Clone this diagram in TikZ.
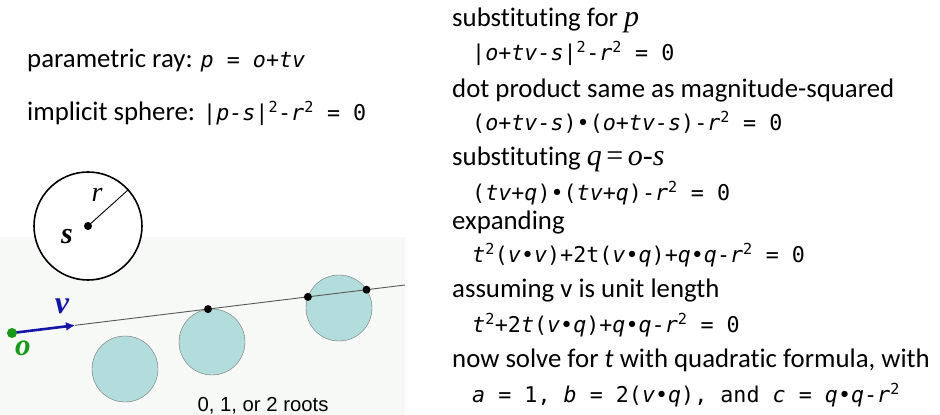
\documentclass[tikz,border=0pt]{standalone}
\usepackage{fontspec}
\setmainfont{Carlito}[Ligatures=NoCommon]
\setmonofont{DejaVu Sans Mono}
\newfontfamily\serifit{Liberation Serif}
\newfontfamily\arialfont{Liberation Sans}
\usetikzlibrary{arrows.meta}
\definecolor{ballfill}{HTML}{B3DCDC}
\definecolor{rayblue}{HTML}{1515A8}
\definecolor{origgreen}{HTML}{189A18}
\definecolor{backshade}{HTML}{F6F9F6}
\newcommand{\vr}[1]{\textit{#1}}
\newcommand{\sq}{\textsuperscript{2}}
\newcommand{\eqfont}{\ttfamily\fontsize{21.7}{24}\selectfont}
\newcommand{\mth}{\serifit\fontsize{30}{32}\selectfont}

\tikzset{
  txt/.style={anchor=base west, inner sep=0pt, font=\fontsize{26.8}{30}\selectfont},
  eqn/.style={anchor=base west, inner sep=0pt, font=\eqfont},
  ball/.style={circle, draw=gray!90!black, fill=ballfill, minimum size=66pt, inner sep=0pt},
  hit/.style={circle, fill=black, minimum size=8pt, inner sep=0pt},
}

\begin{document}
\begin{tikzpicture}[x=1pt, y=-1pt]
    \useasboundingbox (0,0) rectangle (940,415);

    % left: ray and sphere
    \node[txt] (raydef) at (27,67) {parametric ray: {\eqfont\vr{p} = \vr{o+tv}}};
    \node[txt] (spheredef) at (27,120) {implicit sphere: {\eqfont\vr{|p-s|}\sq-\vr{r}\sq{} = 0}};

    % pale panel behind the rays
    \fill[backshade] (0,237) rectangle (405,415);

    % the sphere
    \node[circle, draw, line width=1.6pt, fill=white, minimum size=108pt, inner sep=0pt] (sphere) at (88,226) {};
    \node[hit] (ctr) at (sphere.center) {};
    \draw[line width=0.9pt] (ctr.center) -- (sphere.42);
    \node[font=\fontsize{28}{30}\selectfont\serifit\itshape] (rlbl) at (97,195) {r};
    \node[font=\fontsize{30}{32}\selectfont\serifit\bfseries\itshape] (slbl) at (67,237) {s};

    % three balls
    \node[ball] (ballA) at (125,369) {};
    \node[ball] (ballB) at (212,342) {};
    \node[ball] (ballC) at (339,308) {};

    % ray
    \coordinate (orig) at (12,333);
    \coordinate (vtip) at (75,325.3);
    \coordinate (rayend) at (405,285);
    \draw[gray!70!black, line width=0.9pt] (vtip) -- (rayend);
    \draw[rayblue, line width=2.6pt, -{Latex[length=9pt,width=9pt]}] (orig) -- (vtip);
    \node[circle, fill=origgreen, minimum size=10pt, inner sep=0pt] (odot) at (orig) {};
    \node[text=origgreen, font=\fontsize{31}{33}\selectfont\serifit\bfseries\itshape] (olbl) at (23,348) {o};
    \node[text=rayblue, font=\fontsize{32}{34}\selectfont\serifit\bfseries\itshape] (vlbl) at (62,306) {v};

    % hits
    \node[hit] (touch) at (208,309.1) {};
    \node[hit] (enter) at (307.9,296.9) {};
    \node[hit] (leave) at (366.5,289.7) {};

    \node[anchor=base, inner sep=0pt, font=\fontsize{20.3}{22}\selectfont\arialfont] (roots) at (263,411) {0, 1, or 2 roots};

    % right: the derivation
    \node[txt] (l1) at (452,26) {substituting for {\mth\itshape p}};
    \node[eqn] (l2) at (472,60) {\vr{|o+tv-s|}\sq-\vr{r}\sq{} = 0};
    \node[txt] (l3) at (452,97) {dot product same as magnitude-squared};
    \node[eqn] (l4) at (472,130) {(\vr{o+tv-s})•(\vr{o+tv-s})-\vr{r}\sq{} = 0};
    \node[txt] (l5) at (452,165) {substituting {\mth\itshape q}\,{\mth=}\,{\mth\itshape o-s}};
    \node[eqn] (l6) at (472,200) {(\vr{tv+q})•(\vr{tv+q})-\vr{r}\sq{} = 0};
    \node[txt] (l7) at (452,229) {expanding};
    \node[eqn] (l8) at (472,262) {\vr{t}\sq(\vr{v}•\vr{v})+2t(\vr{v}•\vr{q})+\vr{q}•\vr{q}-\vr{r}\sq{} = 0};
    \node[txt] (l9) at (452,297) {assuming v is unit length};
    \node[eqn] (l10) at (472,332) {\vr{t}\sq+2\vr{t}(\vr{v}•\vr{q})+\vr{q}•\vr{q}-\vr{r}\sq{} = 0};
    \node[txt] (l11) at (452,367) {now solve for \textit{t} with quadratic formula, with};
    \node[eqn] (l12) at (472,402) {\vr{a} = 1, \vr{b} = 2(\vr{v}•\vr{q}), and \vr{c} = \vr{q}•\vr{q}-\vr{r}\sq};
\end{tikzpicture}
\end{document}
